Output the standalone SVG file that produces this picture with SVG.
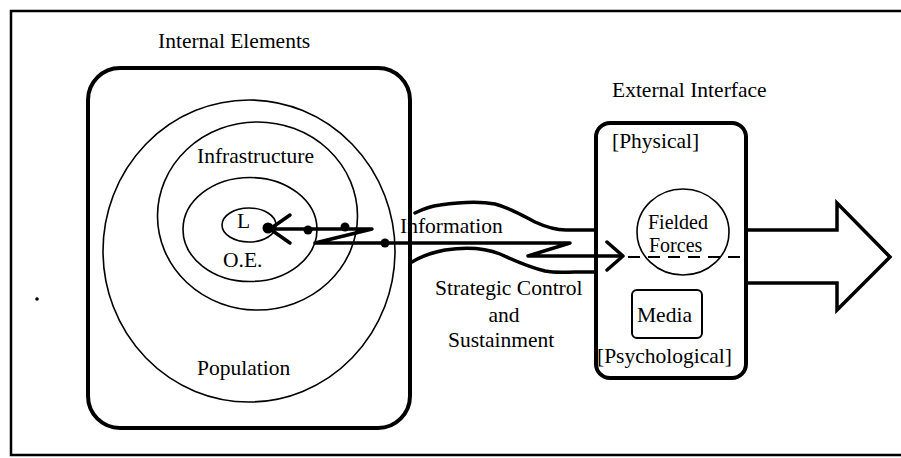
<svg xmlns="http://www.w3.org/2000/svg" width="901" height="458" viewBox="0 0 901 458">
<style>
text{font-family:"Liberation Serif","Times New Roman",serif;font-size:21.5px;fill:#000}
.small{font-size:20px}
.thin{fill:none;stroke:#000;stroke-width:1.6}
.box{fill:none;stroke:#000;stroke-width:4}
.line{fill:none;stroke:#000;stroke-width:3.5;stroke-linejoin:round;stroke-linecap:round}
.dot{fill:#000}
</style>
<rect width="901" height="458" fill="#fff"/>
<path d="M901,11 H11 V455 H901" fill="none" stroke="#000" stroke-width="2.5"/>
<circle cx="37" cy="299" r="1.8" class="dot"/>

<g id="internal-elements">
  <rect x="88" y="68" width="322" height="360" rx="32" class="box"/>
  <text x="158" y="48">Internal Elements</text>
</g>
<g id="population">
  <ellipse cx="249" cy="251" rx="146" ry="151" class="thin"/>
  <text x="197" y="375">Population</text>
</g>
<g id="infrastructure">
  <ellipse cx="257.5" cy="216" rx="100" ry="94" class="thin"/>
  <text x="197" y="163">Infrastructure</text>
</g>
<g id="oe">
  <ellipse cx="250" cy="229.5" rx="67" ry="52" class="thin"/>
  <text x="223" y="267">O.E.</text>
</g>
<g id="leadership">
  <ellipse cx="249" cy="225" rx="27" ry="17" class="thin"/>
  <text x="237" y="228">L</text>
</g>

<g id="external-interface">
  <rect x="596" y="123" width="150" height="255" rx="14" class="box" stroke-width="3.5"/>
  <text x="612" y="97">External Interface</text>
  <text x="612" y="148">[Physical]</text>
  <text x="597" y="363">[Psychological]</text>
</g>
<g id="fielded-forces">
  <ellipse cx="683" cy="232" rx="46" ry="43" class="thin"/>
  <text class="small" x="648" y="229">Fielded</text>
  <text class="small" x="649" y="252">Forces</text>
</g>
<g id="media">
  <rect x="632" y="290" width="70" height="48" rx="5" fill="none" stroke="#000" stroke-width="2"/>
  <text x="637" y="322">Media</text>
</g>
<g id="output-arrow">
  <path d="M746,230 H837 V203 L890,257 L837,310 V283 H746" fill="none" stroke="#000" stroke-width="3.5" stroke-linejoin="miter"/>
</g>

<g id="connectors">
  <path d="M415,213 C425,208 432,206 440,205 C460,202 480,201 495,204 C510,208 520,214 535,222 C548,228 556,230 566,230 L596,230" class="line" stroke-width="3"/>
  <path d="M412,262 C420,257 430,253 445,250 C465,247 485,248 500,254 C515,261 528,267 545,271 C556,273 565,272 575,272 L596,272" class="line" stroke-width="3"/>
  <polyline points="268,229 372,229 315,243 570,243 528,256 621,256" class="line" stroke-linejoin="miter" stroke-miterlimit="10" stroke-linecap="butt"/>
  <polyline points="290,215 270,229 290,243" class="line"/>
  <polyline points="607,242 623,256 607,270" class="line"/>
  <line x1="628" y1="257" x2="746" y2="257" stroke="#000" stroke-width="2" stroke-dasharray="12 8"/>
  <circle cx="268" cy="228" r="5.5" class="dot"/>
  <circle cx="308" cy="230" r="4.5" class="dot"/>
  <circle cx="345" cy="227" r="4.5" class="dot"/>
  <circle cx="385" cy="243" r="4.5" class="dot"/>
  <text x="400" y="233">Information</text>
  <text x="435" y="295">Strategic Control</text>
  <text x="504" y="322" text-anchor="middle">and</text>
  <text x="448" y="347">Sustainment</text>
</g>
</svg>
